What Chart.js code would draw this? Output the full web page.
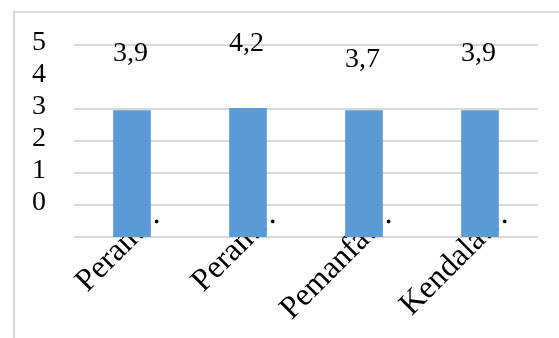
<!DOCTYPE html>
<html>
<head>
<meta charset="utf-8">
<script src="https://cdn.jsdelivr.net/npm/chart.js@4.4.1/dist/chart.umd.min.js"></script>
<style>
  html, body { margin: 0; padding: 0; background: #fff; }
  #wrap { position: relative; width: 559px; height: 338px; overflow: hidden; }
  #marco { position: absolute; left: 13px; top: 11px; width: 600px; height: 400px;
           border-left: 2px solid #d9d9d9; border-top: 2px solid #d9d9d9; }
  canvas { position: absolute; left: 0; top: 0; }
</style>
</head>
<body>
<div id="wrap">
  <div id="marco"></div>
  <canvas id="grafica" width="559" height="338"></canvas>
</div>
<script>
// Datos
const categorias = ['Peran…', 'Peran…', 'Pemanfa…', 'Kendala…'];
const alturasBarra = [2.95, 3.02, 2.95, 2.95];   // altura dibujada de cada barra
const etiquetasValor = [3.9, 4.2, 3.7, 3.9];      // números que aparecen encima
const marcasEje = ['5', '4', '3', '2', '1', '0'];
const ejeMin = -1;
const ejeMax = 5;

const fuente = "'Liberation Serif', 'Times New Roman', serif";

// Etiquetas de categoría giradas (se dibujan antes que las barras)
const pluginCategorias = {
  id: 'categorias',
  beforeDatasetsDraw(chart) {
    const ctx = chart.ctx;
    const x = chart.scales.x;
    const fondo = chart.chartArea.bottom;
    ctx.save();
    ctx.font = '32px ' + fuente;
    ctx.fillStyle = '#000';
    ctx.textAlign = 'right';
    ctx.textBaseline = 'alphabetic';
    categorias.forEach((c, i) => {
      const px = x.getPixelForValue(i);
      ctx.save();
      ctx.translate(px + 29.5, fondo - 18.5);
      ctx.rotate(-Math.PI / 4);
      ctx.fillText(c, 0, 0);
      ctx.restore();
    });
    ctx.restore();
  }
};

// Números encima de las barras
const pluginValores = {
  id: 'valores',
  afterDatasetsDraw(chart) {
    const ctx = chart.ctx;
    const x = chart.scales.x;
    const y = chart.scales.y;
    ctx.save();
    ctx.font = '28px ' + fuente;
    ctx.fillStyle = '#000';
    ctx.textAlign = 'center';
    ctx.textBaseline = 'alphabetic';
    etiquetasValor.forEach((v, i) => {
      const texto = v.toFixed(1).replace('.', ',');
      ctx.fillText(texto, x.getPixelForValue(i) - 1.5, y.getPixelForValue(v) - 19.5);
    });
    ctx.restore();
  }
};

const grafica = new Chart(document.getElementById('grafica'), {
  type: 'bar',
  data: {
    labels: categorias,
    datasets: [{
      data: alturasBarra.map(v => [ejeMin, v]),
      backgroundColor: '#5b9bd5',
      barThickness: 37,
      borderWidth: 0
    }]
  },
  options: {
    responsive: false,
    animation: false,
    devicePixelRatio: 1,
    layout: { padding: { top: 43, right: 21, bottom: 101, left: 0 } },
    plugins: {
      legend: { display: false },
      tooltip: { enabled: false }
    },
    scales: {
      x: {
        display: false,
        offset: true
      },
      y: {
        min: ejeMin,
        max: ejeMax,
        afterFit: (s) => { s.width = 74; },
        border: { display: false },
        grid: {
          drawTicks: false,
          lineWidth: 2,
          color: (c) => (c.tick && c.tick.value === 4) ? 'rgba(0,0,0,0)' : '#d9d9d9'
        },
        ticks: {
          stepSize: 1,
          autoSkip: false,
          padding: 28,
          labelOffset: -2,
          color: '#000',
          font: { family: fuente, size: 28 },
          callback: (v) => v >= 0 ? marcasEje[ejeMax - v] : ''
        }
      }
    }
  },
  plugins: [pluginCategorias, pluginValores]
});
</script>
</body>
</html>
